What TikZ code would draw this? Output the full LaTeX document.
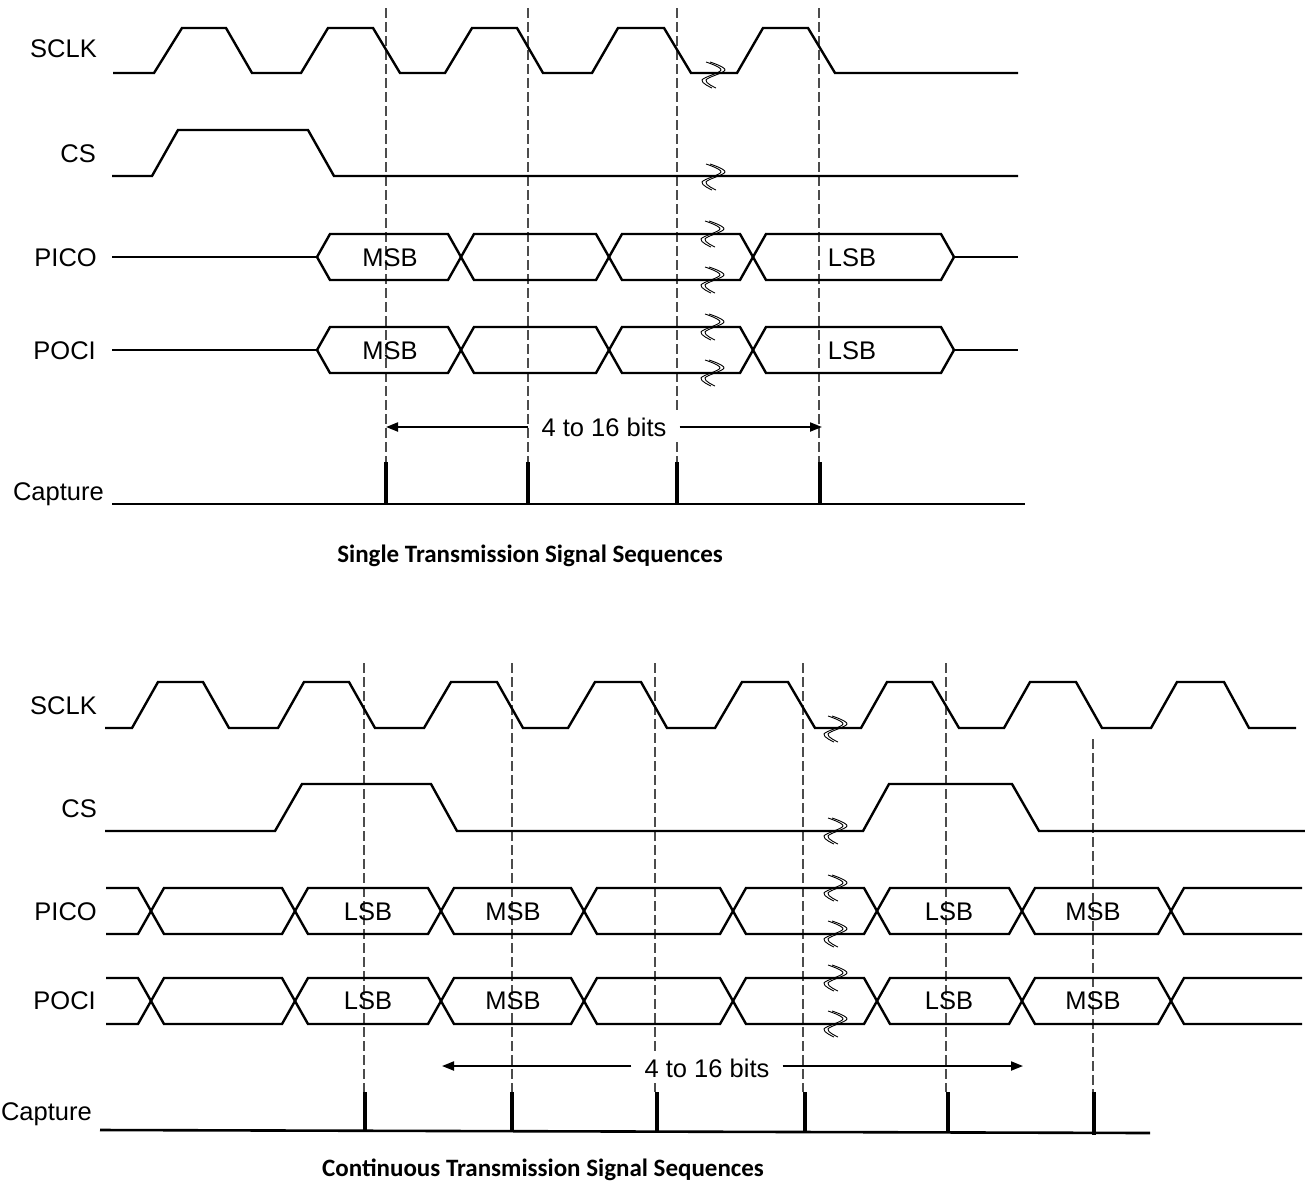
\documentclass[tikz,border=0pt]{standalone}
\usepackage{fontspec}
\setmainfont{Liberation Sans}
\newfontfamily\ttlfont{Carlito}
\usetikzlibrary{arrows.meta}
\tikzset{
  sig/.style={line width=2.4pt, line join=miter},
  pulse/.style={line width=3.6pt},
  base/.style={line width=2.6pt},
  guide/.style={line width=1.2pt, black!70, dash pattern=on 10pt off 4pt},
  brkline/.style={line width=0.9pt},
  lbl/.style={font=\fontsize{25.5}{30}\selectfont, inner sep=0pt},
  sname/.style={lbl, anchor=base east},
  dlbl/.style={lbl, anchor=base},
  arrtxt/.style={lbl, fill=white, inner xsep=13pt, inner ysep=4pt},
  arr/.style={line width=2pt, -{Triangle[length=12pt,width=9pt]}},
  ttl/.style={font=\ttlfont\bfseries\fontsize{25}{30}\selectfont, inner sep=0pt, anchor=base},
  brk/.pic={
    \draw[brkline] plot[smooth,tension=0.6] coordinates {(-6,-13) (9,-5) (-10,5) (0,13)};
    \draw[brkline] plot[smooth,tension=0.6] coordinates {(-2,-13) (13,-5) (-6,5) (4,13)};
  }
}
\newcommand\singlebus[3]{%
  \draw[sig] (317,#3) -- (330,#1) -- (448,#1) -- (474,#2) -- (596,#2) -- (622,#1) -- (740,#1) -- (766,#2) -- (941,#2) -- (954,#3);
  \draw[sig] (317,#3) -- (330,#2) -- (448,#2) -- (474,#1) -- (596,#1) -- (622,#2) -- (740,#2) -- (766,#1) -- (941,#1) -- (954,#3);
  \draw[sig] (112,#3) -- (317,#3);
  \draw[sig] (954,#3) -- (1018,#3);
}
\newcommand\contbus[2]{%
  \draw[sig] (106,#1) -- (138,#1) -- (164,#2) -- (282,#2) -- (308,#1) -- (428,#1) -- (454,#2) -- (571,#2) -- (597,#1) -- (720,#1) -- (746,#2) -- (864,#2) -- (890,#1) -- (1009,#1) -- (1035,#2) -- (1158,#2) -- (1184,#1) -- (1302,#1);
  \draw[sig] (106,#2) -- (138,#2) -- (164,#1) -- (282,#1) -- (308,#2) -- (428,#2) -- (454,#1) -- (571,#1) -- (597,#2) -- (720,#2) -- (746,#1) -- (864,#1) -- (890,#2) -- (1009,#2) -- (1035,#1) -- (1158,#1) -- (1184,#2) -- (1302,#2);
}
\begin{document}
\begin{tikzpicture}[x=1pt,y=-1pt]
\useasboundingbox (0,0) rectangle (1305,1186);

% ================= Single transmission =================
\foreach \gx in {386,528,677,819} {\draw[guide] (\gx,8) -- (\gx,462);}

% SCLK
\draw[sig] (113,73) -- (154,73) -- (182,28) -- (226,28) -- (252,73) -- (301,73) -- (328,28) -- (373,28) -- (400,73) -- (445,73) -- (472,28) -- (517,28) -- (543,73) -- (592,73) -- (618,28) -- (664,28) -- (691,73) -- (737,73) -- (763,28) -- (808,28) -- (835,73) -- (1018,73);
% CS
\draw[sig] (112,176) -- (152,176) -- (178,130) -- (308,130) -- (334,176) -- (1018,176);
% PICO / POCI
\singlebus{234}{280}{257}
\singlebus{327}{373}{350}

% break marks
\foreach \by in {75,177} {\pic at (712,\by) {brk};}
\foreach \by in {234,280,327,373} {\pic at (711,\by) {brk};}

% names
\node[sname] (s1) at (97,57) {SCLK};
\node[sname] (c1) at (96,162) {CS};
\node[sname] (pi1) at (97,266) {PICO};
\node[sname] (po1) at (96,359) {POCI};
\node[sname] (cap1) at (104,500) {Capture};

% data labels
\node[dlbl] (m1) at (390,266) {MSB};
\node[dlbl] (l1) at (852,266) {LSB};
\node[dlbl] (m2) at (390,359) {MSB};
\node[dlbl] (l2) at (852,359) {LSB};

% bits arrow
\node[arrtxt] (bits1) at (604,427) {4 to 16 bits};
\coordinate (b1l) at (386,427);
\coordinate (b1r) at (822,427);
\draw[arr] (bits1) -- (b1l);
\draw[arr] (bits1) -- (b1r);

% capture
\draw[base] (112,504) -- (1025,504);
\foreach \px in {386,528,677,820} {\draw[pulse] (\px,462) -- (\px,504);}

\node[ttl] (t1) at (530,562) {Single Transmission Signal Sequences};

% ================= Continuous transmission =================
\foreach \gx in {364,512,655,803,946} {\draw[guide] (\gx,663) -- (\gx,1092);}
\draw[guide] (1093,739) -- (1093,1092);

% SCLK
\draw[sig] (105,728) -- (132,728) -- (158,682) -- (203,682) -- (229,728) -- (278,728) -- (304,682) -- (349,682) -- (375,728) -- (424,728) -- (451,682) -- (497,682) -- (523,728) -- (568,728) -- (595,682) -- (641,682) -- (667,728) -- (715,728) -- (742,682) -- (788,682) -- (815,728) -- (861,728) -- (887,682) -- (932,682) -- (959,728) -- (1004,728) -- (1030,682) -- (1076,682) -- (1102,728) -- (1151,728) -- (1177,682) -- (1224,682) -- (1249,728) -- (1296,728);
% CS
\draw[sig] (105,831) -- (275,831) -- (302,784) -- (431,784) -- (457,831) -- (863,831) -- (889,784) -- (1012,784) -- (1039,831) -- (1305,831);
% PICO / POCI
\contbus{888}{934}
\contbus{978}{1024}

% break marks
\foreach \by in {729,831,888,934,978,1024} {\pic at (834,\by) {brk};}

% names
\node[sname] (s2) at (97,714) {SCLK};
\node[sname] (c2) at (97,817) {CS};
\node[sname] (pi2) at (97,920) {PICO};
\node[sname] (po2) at (96,1009) {POCI};
\node[sname] (cap2) at (92,1120) {Capture};

% data labels
\node[dlbl] (l3) at (368,920) {LSB};
\node[dlbl] (m3) at (513,920) {MSB};
\node[dlbl] (l4) at (949,920) {LSB};
\node[dlbl] (m4) at (1093,920) {MSB};
\node[dlbl] (l5) at (368,1009) {LSB};
\node[dlbl] (m5) at (513,1009) {MSB};
\node[dlbl] (l6) at (949,1009) {LSB};
\node[dlbl] (m6) at (1093,1009) {MSB};

% bits arrow
\node[arrtxt] (bits2) at (707,1068) {4 to 16 bits};
\coordinate (b2l) at (442,1066);
\coordinate (b2r) at (1023,1066);
\draw[arr] (bits2.west |- b2l) -- (b2l);
\draw[arr] (bits2.east |- b2r) -- (b2r);

% capture
\draw[base] (100,1130) -- (1150,1133);
\foreach \px in {365,512,657,805,948} {\draw[pulse] (\px,1092) -- (\px,1132);}
\draw[pulse] (1094,1092) -- (1094,1135);

\node[ttl] (t2) at (543,1176) {Continuous Transmission Signal Sequences};
\end{tikzpicture}
\end{document}
